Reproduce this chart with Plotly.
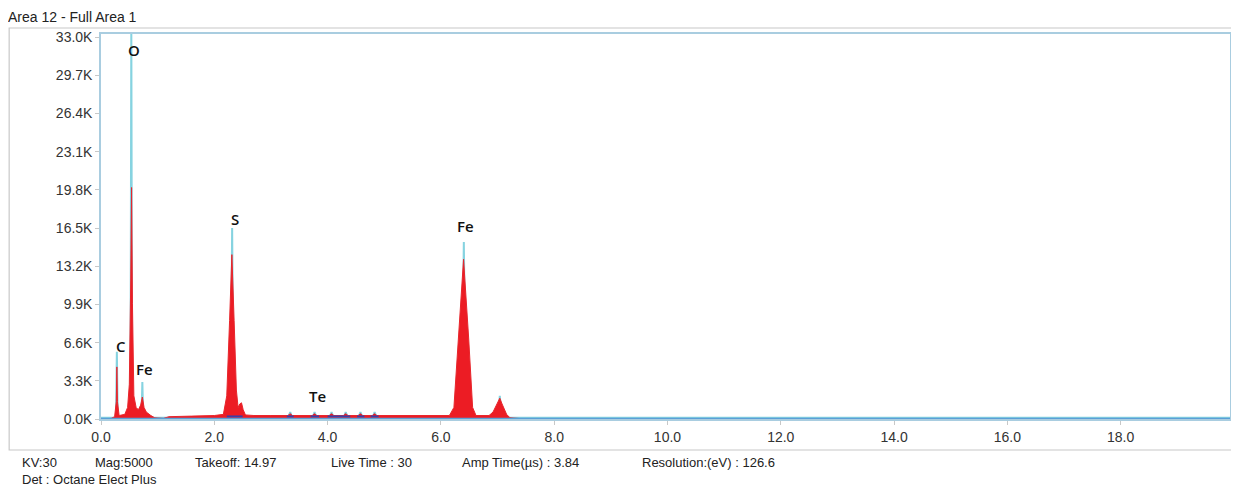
import plotly.graph_objects as go

# ---------------- data ----------------
title_text = "Area 12 - Full Area 1"

# measured spectrum (red, counts in K)
spec_keV = [0.00, 0.18, 0.24, 0.27, 0.28, 0.29, 0.32, 0.42, 0.47, 0.50, 0.525, 0.54, 0.555,
            0.58, 0.62, 0.66, 0.70, 0.73, 0.76, 0.80, 0.88, 0.95, 1.10, 1.20, 1.60, 2.00,
            2.16, 2.22, 2.27, 2.31, 2.35, 2.39, 2.42, 2.45, 2.48, 2.51, 2.55, 2.70, 3.00,
            3.30, 3.34, 3.38, 3.73, 3.77, 3.81, 4.03, 4.07, 4.11, 4.28, 4.32, 4.36, 4.54,
            4.58, 4.62, 4.79, 4.83, 4.87, 5.20, 5.80, 6.15, 6.23, 6.31, 6.40, 6.49, 6.56,
            6.62, 6.85, 6.92, 7.00, 7.04, 7.08, 7.16, 7.22, 7.40, 7.50, 20.0]
spec_K = [0.00, 0.05, 0.20, 1.50, 4.50, 1.50, 0.30, 0.40, 1.00, 3.00, 12.0, 20.0, 10.0,
          2.00, 1.00, 0.80, 1.20, 1.90, 1.00, 0.60, 0.30, 0.10, 0.05, 0.20, 0.25, 0.30,
          0.40, 2.00, 8.50, 14.2, 8.50, 2.50, 1.00, 1.30, 1.40, 0.80, 0.35, 0.30, 0.30,
          0.30, 0.45, 0.30, 0.30, 0.45, 0.30, 0.30, 0.45, 0.30, 0.30, 0.45, 0.30, 0.30,
          0.45, 0.30, 0.30, 0.45, 0.30, 0.30, 0.30, 0.30, 1.00, 7.00, 13.8, 7.00, 1.00,
          0.30, 0.30, 0.60, 1.40, 1.80, 1.30, 0.40, 0.10, 0.05, 0.00, 0.00]

# fitted spectrum (cyan line, counts in K)
fit_keV = [0.00, 0.265, 0.28, 0.295, 0.52, 0.535, 0.55, 0.715, 0.73, 0.745,
           2.29, 2.315, 2.34, 3.31, 3.34, 3.37, 3.74, 3.77, 3.80, 4.04, 4.07, 4.10,
           4.29, 4.32, 4.35, 4.55, 4.58, 4.61, 4.80, 4.83, 4.86,
           6.37, 6.405, 6.44, 7.01, 7.04, 7.07, 20.0]
fit_K = [0.10, 0.10, 5.80, 0.10, 0.10, 34.0, 0.10, 0.10, 3.20, 0.10,
         0.10, 16.5, 0.10, 0.20, 0.60, 0.20, 0.20, 0.60, 0.20, 0.20, 0.60, 0.20,
         0.20, 0.60, 0.20, 0.20, 0.60, 0.20, 0.20, 0.60, 0.20,
         0.10, 15.3, 0.10, 0.10, 2.00, 0.10, 0.10]

# background fit segments (dark blue)
bkg_keV = [2.22, 2.50, None, 3.28, 3.40, None, 3.70, 3.85, None, 4.00, 4.40, None,
           4.52, 4.65, None, 4.76, 4.90]
bkg_K = [0.22, 0.22, None, 0.22, 0.22, None, 0.22, 0.22, None, 0.22, 0.22, None,
         0.22, 0.22, None, 0.22, 0.22]

# peak labels
label_text = ["O", "C", "Fe", "S", "Te", "Fe"]
label_keV = [0.58, 0.35, 0.76, 2.36, 3.83, 6.44]
label_K = [31.9, 6.3, 4.3, 17.3, 2.0, 16.7]

x_ticks = [0, 2, 4, 6, 8, 10, 12, 14, 16, 18]
x_ticktext = ["0.0", "2.0", "4.0", "6.0", "8.0", "10.0", "12.0", "14.0", "16.0", "18.0"]
y_ticks = [0, 3.3, 6.6, 9.9, 13.2, 16.5, 19.8, 23.1, 26.4, 29.7, 33.0]
y_ticktext = ["0.0K", "3.3K", "6.6K", "9.9K", "13.2K", "16.5K", "19.8K", "23.1K",
              "26.4K", "29.7K", "33.0K"]

footer_line1 = ["KV:30", "Mag:5000", "Takeoff: 14.97", "Live Time : 30",
                "Amp Time(\u00b5s) : 3.84", "Resolution:(eV) : 126.6"]
footer_line2 = "Det : Octane Elect Plus"

# ---------------- figure ----------------
FONT = "Liberation Sans, Arial, sans-serif"
OFF = 8  # page body margin offset
FIG_W, FIG_H = 1239 - OFF, 488 - OFF
ML, MT, MR = 101 - OFF, 34 - OFF, 7
MB = FIG_H - MT - (419 - 34)

fig = go.Figure()

fig.add_trace(go.Scatter(x=fit_keV, y=fit_K, mode="lines",
                         line=dict(color="#86d3e0", width=2), hoverinfo="skip"))
fig.add_trace(go.Scatter(x=spec_keV, y=spec_K, mode="lines", fill="tozeroy",
                         fillcolor="#ec1c24", line=dict(color="#e8262c", width=1),
                         hoverinfo="skip"))
fig.add_trace(go.Scatter(x=bkg_keV, y=bkg_K, mode="lines",
                         line=dict(color="#3b3fa8", width=2), hoverinfo="skip"))
fig.add_trace(go.Scatter(x=[0, 20], y=[0, 0], mode="lines",
                         line=dict(color="#5b9fd6", width=2.5), hoverinfo="skip"))

for t, xv, yv in zip(label_text, label_keV, label_K):
    fig.add_annotation(x=xv, y=yv, text=t, showarrow=False, xanchor="center",
                       yanchor="middle",
                       font=dict(family="Open Sans, sans-serif", size=15, color="#111111",
                                 weight=600))

fig.update_layout(
    width=FIG_W, height=FIG_H,
    margin=dict(l=ML, r=MR, t=MT, b=MB),
    paper_bgcolor="white", plot_bgcolor="white",
    showlegend=False,
    font=dict(family=FONT, size=14, color="#333333"),
    xaxis=dict(range=[0, 19.93], tickvals=x_ticks, ticktext=x_ticktext,
               showgrid=False, zeroline=False, showline=True, mirror=True,
               linecolor="#a9cde0", linewidth=1.5, ticks="outside", ticklen=4,
               tickcolor="#c8c8c8", tickfont=dict(family=FONT, size=14, color="#333333")),
    yaxis=dict(range=[0, 33.26], tickvals=y_ticks, ticktext=y_ticktext,
               showgrid=False, zeroline=False, showline=True, mirror=True,
               linecolor="#a9cde0", linewidth=1.5, ticks="outside", ticklen=4,
               tickcolor="#c8c8c8", tickfont=dict(family=FONT, size=14, color="#333333")),
)

W_PLOT = FIG_W - ML - MR
H_PLOT = FIG_H - MT - MB


def px_to_paper(px, py):
    """page pixel -> paper coordinates"""
    return (px - 101) / W_PLOT, (419 - py) / H_PLOT


tx, ty = px_to_paper(6, 17)
fig.add_annotation(x=tx, y=ty, xref="paper", yref="paper", text=title_text,
                   showarrow=False, xanchor="left", yanchor="middle",
                   font=dict(family=FONT, size=14, color="#222222"))

footer_x = [20, 93, 193, 329, 461, 641]
for t, fx in zip(footer_line1, footer_x):
    ax, ay = px_to_paper(fx, 462)
    fig.add_annotation(x=ax, y=ay, xref="paper", yref="paper", text=t, showarrow=False,
                       xanchor="left", yanchor="middle",
                       font=dict(family=FONT, size=13, color="#222222"))
ax, ay = px_to_paper(20, 479)
fig.add_annotation(x=ax, y=ay, xref="paper", yref="paper", text=footer_line2,
                   showarrow=False, xanchor="left", yanchor="middle",
                   font=dict(family=FONT, size=13, color="#222222"))

# outer panel border
x0, y0 = px_to_paper(9, 450)
x1, y1 = px_to_paper(1238, 28)
fig.add_shape(type="rect", xref="paper", yref="paper", x0=x0, y0=y0, x1=x1, y1=y1,
              line=dict(color="#c8c8c8", width=1.2), layer="below")

fig.write_html("out.html")
